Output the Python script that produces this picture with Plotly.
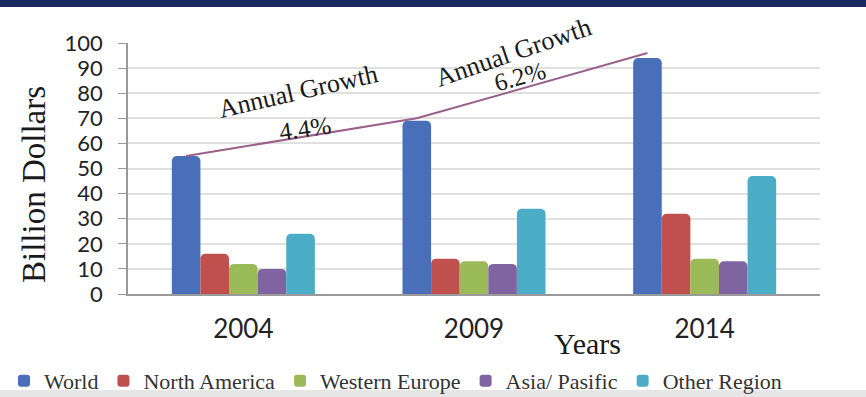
import plotly.graph_objects as go

# ---------------- data ----------------
years = ["2004", "2009", "2014"]
series_names = ["World", "North America", "Western Europe", "Asia/ Pasific", "Other Region"]
world = [55, 69, 94]
north_america = [16, 14, 32]
western_europe = [12, 13, 14]
asia_pacific = [10, 12, 13]
other_region = [24, 34, 47]
trend_values = [55, 70, 96]
growth_title = "Annual Growth"
growth_rates = ["4.4%", "6.2%"]
y_ticks = list(range(0, 101, 10))

# ---------------- styling ----------------
colors = ["#4a6fba", "#c0504d", "#9bbb59", "#8064a2", "#4bacc6"]
series_values = [world, north_america, western_europe, asia_pacific, other_region]
BARGAP = 0.38
bar_w = (1 - BARGAP) / len(series_names)
xpos = list(range(len(years)))

fig = go.Figure()
for name, vals, col in zip(series_names, series_values, colors):
    fig.add_trace(go.Bar(
        x=xpos, y=vals, name=name,
        marker=dict(color=col, line=dict(width=0), cornerradius=5),
    ))

# growth line through the World bars
fig.add_trace(go.Scatter(
    x=[i - 2 * bar_w for i in xpos], y=trend_values,
    mode="lines", line=dict(color="#9c5f8c", width=2),
    showlegend=False, hoverinfo="skip",
))

serif = "Liberation Serif, Times New Roman, serif"
annos = [
    dict(x=0.237, y=80.5, text=growth_title, textangle=-13, font=dict(size=26)),
    dict(x=0.267, y=66.0, text=growth_rates[0], textangle=-8, font=dict(size=25)),
    dict(x=1.169, y=96.4, text=growth_title, textangle=-19, font=dict(size=26)),
    dict(x=1.199, y=86.5, text=growth_rates[1], textangle=-15, font=dict(size=25)),
]
for a in annos:
    a.update(xref="x", yref="y", showarrow=False, xanchor="center", yanchor="middle")
    a["font"].update(family=serif, color="#1a1a1a")

# axis titles
annos.append(dict(xref="paper", yref="paper", x=(34 - 128) / 692, y=(294 - 185) / 251,
                  xanchor="center", yanchor="middle",
                  text="Billion Dollars", textangle=-90, showarrow=False,
                  font=dict(family=serif, size=33, color="#1a1a1a")))
annos.append(dict(xref="paper", yref="paper", x=(587 - 128) / 692, y=(294 - 343) / 251,
                  xanchor="center", yanchor="middle",
                  text="Years", showarrow=False,
                  font=dict(family=serif, size=30, color="#1a1a1a")))

fig.update_layout(
    width=866, height=397,
    margin=dict(l=128, r=46, t=43, b=103, autoexpand=False),
    paper_bgcolor="white", plot_bgcolor="white",
    barmode="group", bargap=BARGAP, bargroupgap=0,
    annotations=annos,
    showlegend=True,
    legend=dict(orientation="h", x=(4 - 128) / 692, xanchor="left",
                y=(294 - 381) / 251, yanchor="middle",
                font=dict(family=serif, size=22, color="#333333"),
                bgcolor="rgba(0,0,0,0)", traceorder="normal"),
    shapes=[
        dict(type="rect", xref="paper", yref="paper",
             x0=-128 / 692, x1=(866 - 128) / 692, y0=(294 - 7) / 251, y1=294 / 251,
             fillcolor="#1b2a5c", line=dict(width=0), layer="above"),
        dict(type="rect", xref="paper", yref="paper",
             x0=-128 / 692, x1=(866 - 128) / 692, y0=(294 - 397) / 251, y1=(294 - 390) / 251,
             fillcolor="#e6e6e6", line=dict(width=0), layer="below"),
    ],
)

fig.update_xaxes(
    range=[-0.5, 2.5], tickvals=xpos, ticktext=years,
    showline=True, linecolor="#9a9a9a", linewidth=1.5, mirror=False,
    showgrid=False, zeroline=False, ticks="",
    tickfont=dict(family="Lato, sans-serif", size=26, color="#222222"),
    ticklabelstandoff=11,
)
fig.update_yaxes(
    range=[0, 100], tickvals=y_ticks,
    showline=True, linecolor="#9a9a9a", linewidth=1.5,
    ticks="outside", ticklen=8, tickcolor="#9a9a9a",
    showgrid=True, gridcolor="#e0e0e0", gridwidth=1.5, zeroline=False,
    tickfont=dict(family="Lato, sans-serif", size=22, color="#222222"),
    ticklabelstandoff=11,
)

fig.write_html("out.html", config={"displayModeBar": False},
               post_script="document.body.style.margin='0';")
